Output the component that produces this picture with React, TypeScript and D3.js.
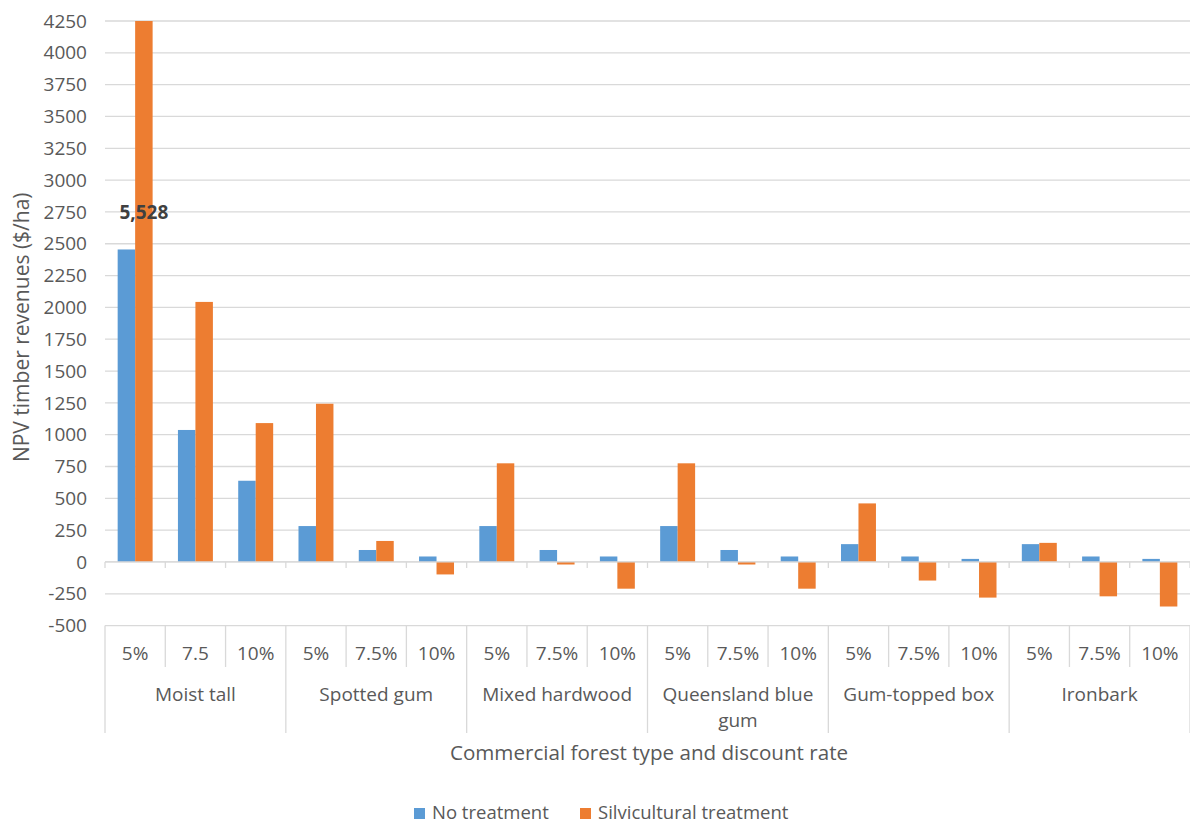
import React from "react";
import * as d3 from "d3";

// ---- Data ----
const forestTypes = [
  "Moist tall",
  "Spotted gum",
  "Mixed hardwood",
  "Queensland blue gum",
  "Gum-topped box",
  "Ironbark",
];
const rateLabels = [
  "5%", "7.5", "10%",
  "5%", "7.5%", "10%",
  "5%", "7.5%", "10%",
  "5%", "7.5%", "10%",
  "5%", "7.5%", "10%",
  "5%", "7.5%", "10%",
];
const noTreatment = [
  2455, 1037, 638,
  282, 94, 43,
  282, 94, 43,
  282, 94, 43,
  140, 43, 24,
  140, 43, 24,
];
const silviculturalTreatment = [
  5528, 2043, 1091,
  1243, 165, -98,
  775, -20, -210,
  775, -20, -210,
  460, -146, -280,
  150, -270, -350,
];
const yTicks = [
  -500, -250, 0, 250, 500, 750, 1000, 1250, 1500, 1750, 2000, 2250, 2500,
  2750, 3000, 3250, 3500, 3750, 4000, 4250,
];
const labelledIndex = [0]; // bar with an overflow value label (silvicultural)
const seriesNames = ["No treatment", "Silvicultural treatment"];
const seriesColors = ["#5B9BD5", "#ED7D31"];

const FONT = "'Open Sans', sans-serif";
const TEXT = "#595959";
const GRID = "#D9D9D9";

export default function App() {
  const W = 1190;
  const H = 826;
  const left = 105;
  const right = 1190;
  const top = 21;
  const bottom = 625.6;

  const n = rateLabels.length;
  const x = d3
    .scaleBand<number>()
    .domain(d3.range(n))
    .range([left, right])
    .padding(0);
  const bw = x.bandwidth();
  const barW = bw * 0.29;

  const y = d3
    .scaleLinear()
    .domain([yTicks[0], yTicks[yTicks.length - 1]])
    .range([bottom, top])
    .clamp(true);
  const y0 = y(0);

  const series = [noTreatment, silviculturalTreatment];
  const fmt = d3.format(",");

  const wrap = (s: string) => {
    if (s.length <= 15) return [s];
    const i = s.lastIndexOf(" ");
    return [s.slice(0, i), s.slice(i + 1)];
  };

  const boundaryX = (i: number) => left + i * bw;

  return (
    <svg
      width={W}
      height={H}
      style={{ position: "absolute", left: 0, top: 0, background: "#fff" }}
      fontFamily={FONT}
    >
      {/* gridlines */}
      {yTicks.map((t) => (
        <line
          key={"g" + t}
          x1={left}
          x2={right}
          y1={y(t)}
          y2={y(t)}
          stroke={GRID}
          strokeWidth={1.3}
        />
      ))}
      {/* y tick labels */}
      {yTicks.map((t) => (
        <text
          key={"yl" + t}
          x={87}
          y={y(t)}
          dy="0.35em"
          textAnchor="end"
          fontSize={19}
          fill={TEXT}
        >
          {t}
        </text>
      ))}
      {/* y axis title */}
      <text
        transform={`translate(22,${(top + bottom) / 2 + 4}) rotate(-90)`}
        textAnchor="middle"
        dy="0.35em"
        fontSize={21}
        fill={TEXT}
      >
        NPV timber revenues ($/ha)
      </text>

      {/* bars */}
      {series.map((vals, s) =>
        vals.map((v, i) => {
          const cx = (x(i) as number) + bw / 2;
          const bx = s === 0 ? cx - barW : cx;
          const yv = y(v);
          return (
            <rect
              key={`b${s}-${i}`}
              x={bx}
              width={barW}
              y={Math.min(yv, y0)}
              height={Math.abs(y0 - yv)}
              fill={seriesColors[s]}
            />
          );
        })
      )}

      {/* zero axis line + ticks */}
      <line x1={left} x2={right} y1={y0} y2={y0} stroke={GRID} strokeWidth={1.3} />
      {d3.range(n + 1).map((i) => (
        <line
          key={"zt" + i}
          x1={boundaryX(i)}
          x2={boundaryX(i)}
          y1={y0}
          y2={y0 + 6}
          stroke={GRID}
          strokeWidth={1.3}
        />
      ))}

      {/* data label */}
      {labelledIndex.map((i) => (
        <text
          key={"dl" + i}
          x={(x(i) as number) + bw / 2 + barW / 2}
          y={212}
          dy="0.35em"
          textAnchor="middle"
          fontSize={19}
          fontWeight="bold"
          fill="#404040"
        >
          {fmt(silviculturalTreatment[i])}
        </text>
      ))}

      {/* category axis dividers */}
      {d3.range(n + 1).map((i) => (
        <line
          key={"cd" + i}
          x1={boundaryX(i)}
          x2={boundaryX(i)}
          y1={bottom}
          y2={i % 3 === 0 ? 733 : 667}
          stroke={GRID}
          strokeWidth={1.3}
        />
      ))}
      {/* rate labels */}
      {rateLabels.map((r, i) => (
        <text
          key={"rl" + i}
          x={(x(i) as number) + bw / 2}
          y={653}
          dy="0.35em"
          textAnchor="middle"
          fontSize={19}
          fill={TEXT}
        >
          {r}
        </text>
      ))}
      {/* forest type labels */}
      {forestTypes.map((f, g) => {
        const cx = left + (g * 3 + 1.5) * bw;
        return (
          <text
            key={"ft" + g}
            x={cx}
            y={694}
            textAnchor="middle"
            fontSize={19}
            fill={TEXT}
          >
            {wrap(f).map((line, k) => (
              <tspan key={k} x={cx} dy={k === 0 ? "0.35em" : 26}>
                {line}
              </tspan>
            ))}
          </text>
        );
      })}

      {/* x axis title */}
      <text
        x={649}
        y={753}
        dy="0.35em"
        textAnchor="middle"
        fontSize={20.6}
        fill={TEXT}
      >
        Commercial forest type and discount rate
      </text>

      {/* legend */}
      {seriesNames.map((name, s) => {
        const lx = s === 0 ? 414 : 580;
        return (
          <g key={"lg" + s}>
            <rect x={lx} y={808} width={11} height={11} fill={seriesColors[s]} />
            <text
              x={lx + 18}
              y={813}
              dy="0.35em"
              fontSize={18.5}
              fill={TEXT}
            >
              {name}
            </text>
          </g>
        );
      })}
    </svg>
  );
}
